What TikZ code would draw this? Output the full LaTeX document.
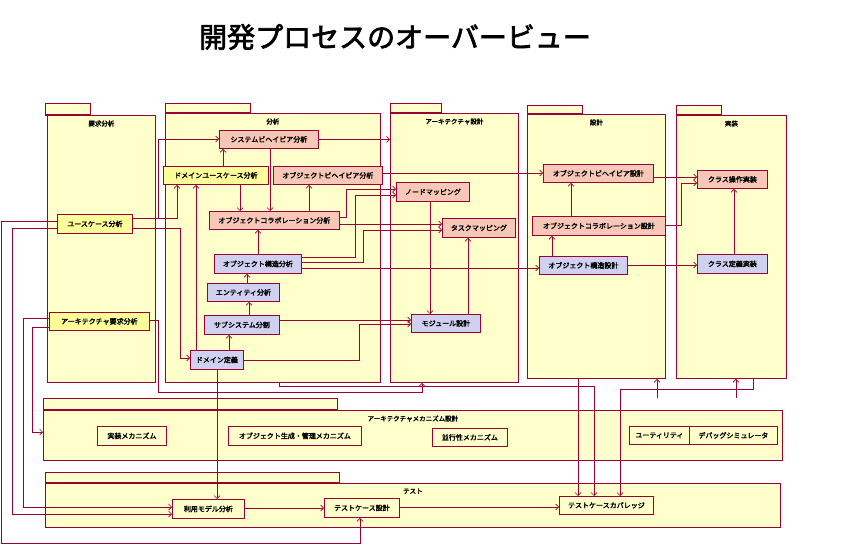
\documentclass[tikz,border=0pt]{standalone}
\usepackage{fontspec}
\newfontfamily\jp{Noto Sans CJK JP}[AutoFakeBold=2.5]
\usetikzlibrary{arrows.meta}
\definecolor{wine}{RGB}{153,0,51}
\definecolor{pkgfill}{RGB}{255,255,204}
\definecolor{ylw}{RGB}{255,255,153}
\definecolor{pnk}{RGB}{247,199,183}
\definecolor{lav}{RGB}{208,208,240}

\begin{document}
\begin{tikzpicture}[
      x=1pt,y=-1pt,
      pkg/.style={
         draw=wine,
         fill=pkgfill,
         line width=0.8pt,
         anchor=north west,
         inner sep=0pt},
      pkgtab/.style={
         draw=wine,
         fill=pkgfill,
         line width=0.8pt},
      pkgname/.style={
         font=\jp\bfseries\fontsize{6.5}{7}\selectfont,
         below=2pt},
      task/.style={
         draw=wine,
         line width=0.8pt,
         anchor=north west,
         inner sep=0pt,
         font=\jp\bfseries\fontsize{7}{8}\selectfont},
      yl/.style={task,fill=ylw},
      pk/.style={task,fill=pnk},
      lv/.style={task,fill=lav},
      wt/.style={task,fill=pkgfill},
      flow/.style={draw=wine,line width=0.7pt,-{Straight Barb[length=3pt,width=6pt]}}
      ]
      \useasboundingbox (0,0) rectangle (867,545);
      \node[font=\jp\bfseries\fontsize{28}{30}\selectfont] (title) at (395,37) {開発プロセスのオーバービュー};
      % packages
      \draw[pkgtab] (45,103) rectangle (90,115);
      \node[pkg,minimum width=108,minimum height=267] (req) at (47,115) {};
      \draw[pkgtab] (165,103) rectangle (250,113);
      \node[pkg,minimum width=215,minimum height=269] (ana) at (165,113) {};
      \draw[pkgtab] (390,103) rectangle (441,113);
      \node[pkg,minimum width=128,minimum height=269] (arc) at (390,113) {};
      \draw[pkgtab] (527,105) rectangle (582,114);
      \node[pkg,minimum width=138,minimum height=264] (des) at (527,114) {};
      \draw[pkgtab] (676,105) rectangle (721,115);
      \node[pkg,minimum width=110,minimum height=263] (imp) at (676,115) {};
      \draw[pkgtab] (43,398) rectangle (337,410);
      \node[pkg,minimum width=739,minimum height=50] (mech) at (43,410) {};
      \draw[pkgtab] (45,472) rectangle (339,483);
      \node[pkg,minimum width=735,minimum height=44] (test) at (45,483) {};
      % thick tab edges
      \foreach \xa/\xb/\yy in {45/90/115, 165/250/113, 390/441/113, 527/582/114,
                               676/721/115, 43/337/410, 45/339/483}
        \draw[wine,line width=2pt] (\xa,\yy) -- (\xb,\yy);
      \node[pkgname] at (req.north) {要求分析};
      \node[pkgname] at (ana.north) {分析};
      \node[pkgname] at (arc.north) {アーキテクチャ設計};
      \node[pkgname] at (des.north) {設計};
      \node[pkgname] at (imp.north) {実装};
      \node[pkgname] at (mech.north) {アーキテクチャメカニズム設計};
      \node[pkgname] at (test.north) {テスト};
      % requirements
      \node[yl,minimum width=75,minimum height=19] (uc) at (57,214) {ユースケース分析};
      \node[yl,minimum width=100,minimum height=18] (areq) at (49,312) {アーキテクチャ要求分析};
      % analysis
      \node[pk,minimum width=99,minimum height=18] (sysb) at (219,130) {システムビヘイビア分析};
      \node[yl,minimum width=105,minimum height=18] (dus) at (163,166) {ドメインユースケース分析};
      \node[pk,minimum width=109,minimum height=18] (obeha) at (273,166) {オブジェクトビヘイビア分析};
      \node[pk,minimum width=130,minimum height=18] (ocola) at (209,211) {オブジェクトコラボレーション分析};
      \node[lv,minimum width=87,minimum height=19] (ostra) at (214,254) {オブジェクト構造分析};
      \node[lv,minimum width=72,minimum height=18] (ent) at (207,283) {エンティティ分析};
      \node[lv,minimum width=75,minimum height=19] (sub) at (204,315) {サブシステム分割};
      \node[lv,minimum width=53,minimum height=19] (ddef) at (190,350) {ドメイン定義};
      % architecture design
      \node[pk,minimum width=73,minimum height=19] (nmap) at (396,182) {ノードマッピング};
      \node[pk,minimum width=73,minimum height=19] (tmap) at (442,218) {タスクマッピング};
      \node[lv,minimum width=69,minimum height=18] (mod) at (411,314) {モジュール設計};
      % design
      \node[pk,minimum width=110,minimum height=18] (obehd) at (543,164) {オブジェクトビヘイビア設計};
      \node[pk,minimum width=133,minimum height=19] (ocold) at (532,216) {オブジェクトコラボレーション設計};
      \node[lv,minimum width=88,minimum height=18] (ostrd) at (539,256) {オブジェクト構造設計};
      % implementation
      \node[pk,minimum width=70,minimum height=18] (cop) at (697,170) {クラス操作実装};
      \node[lv,minimum width=70,minimum height=19] (cdef) at (697,254) {クラス定義実装};
      % mechanisms
      \node[wt,minimum width=69,minimum height=19] (m1) at (97,426) {実装メカニズム};
      \node[wt,minimum width=133,minimum height=19] (m2) at (228,426) {オブジェクト生成・管理メカニズム};
      \node[wt,minimum width=75,minimum height=18] (m3) at (432,428) {並行性メカニズム};
      \node[wt,minimum width=60,minimum height=18] (m4) at (629,426) {ユーティリティ};
      \node[wt,minimum width=88,minimum height=18] (m5) at (689,426) {デバッグシミュレータ};
      % test
      \node[wt,minimum width=72,minimum height=19] (umod) at (172,499) {利用モデル分析};
      \node[wt,minimum width=75,minimum height=19] (tcd) at (324,498) {テストケース設計};
      \node[wt,minimum width=94,minimum height=18] (cov) at (559,496) {テストケースカバレッジ};
      \coordinate (mtopA) at (657,398);
      \coordinate (mtopB) at (736,398);
      % connectors
      \draw[flow] (uc.east |- 0,218) -| (158,139) -- (sysb.west |- 0,139);
      \draw[flow] (uc.east |- 0,218) -| (dus.south -| 177,0);
      \draw[flow] (uc.east |- 0,228) -| (180,358) -- (ddef.west |- 0,358);
      \draw[flow] (ddef.north -| 196,0) -- (dus.south -| 196,0);
      \draw[flow] (dus.south -| 240,0) -- (ocola.north -| 240,0);
      \draw[flow] (sysb.south -| 270,0) -- (ocola.north -| 270,0);
      \draw[flow] (dus.north -| 223,0) -- (sysb.south -| 223,0);
      \draw[flow] (ocola.north -| 309,0) -- (obeha.south -| 309,0);
      \draw[flow] (ostra.north -| 258,0) -- (ocola.south -| 258,0);
      \draw[flow] (ent.north -| 247,0) -- (ostra.south -| 247,0);
      \draw[flow] (sub.north -| 249,0) -- (ent.south -| 249,0);
      \draw[flow] (ddef.north -| 229,0) -- (sub.south -| 229,0);
      \draw[flow] (sysb.east) -- (sysb.east -| arc.west);
      \draw[flow] (obeha.east |- 0,173) -- (obehd.west |- 0,173);
      \draw[flow] (ocola.east |- 0,217) -| (346,189) -- (nmap.west |- 0,189);
      \draw[flow] (ostra.east |- 0,257) -| (355,195) -- (nmap.west |- 0,195);
      \draw[flow] (ocola.east |- 0,224) -- (tmap.west |- 0,224);
      \draw[flow] (ostra.east |- 0,262) -| (363,230) -- (tmap.west |- 0,230);
      \draw[flow] (ostra.east |- 0,268) -- (ostrd.west |- 0,268);
      \draw[flow] (sub.east |- 0,320) -- (mod.west |- 0,320);
      \draw[flow] (ddef.east |- 0,360) -| (359,324) -- (mod.west |- 0,324);
      \draw[flow] (nmap.south -| 430,0) -- (mod.north -| 430,0);
      \draw[flow] (mod.north -| 468,0) -- (tmap.south -| 468,0);
      \draw[flow] (ostrd.north -| 552,0) -- (ocold.south -| 552,0);
      \draw[flow] (ocold.north -| 571,0) -- (obehd.south -| 571,0);
      \draw[flow] (obehd.east |- 0,177) -- (cop.west |- 0,177);
      \draw[flow] (ocold.east |- 0,225) -| (681,183) -- (cop.west |- 0,183);
      \draw[flow] (ostrd.east |- 0,265) -- (cdef.west |- 0,265);
      \draw[flow] (cdef.north -| 734,0) -- (cop.south -| 734,0);
      \draw[flow] (uc.west |- 0,221) -| (1,543) -| (tcd.south -| 360,0);
      \draw[flow] (uc.west |- 0,228) -| (12,514) -- (umod.west |- 0,514);
      \draw[flow] (areq.west |- 0,318) -| (23,507) -- (umod.west |- 0,507);
      \draw[flow] (areq.west |- 0,327) -| (32,432) -- (mech.west |- 0,432);
      \draw[flow] (areq.east |- 0,320) -| (158,392) -| (arc.south -| 422,0);
      \draw[flow] (ana.south -| 279,0) |- (594,386) -- (cov.north -| 594,0);
      \draw[flow] (des.south -| 578,0) -- (cov.north -| 578,0);
      \draw[flow] (imp.south -| 753,0) |- (620,389) -- (cov.north -| 620,0);
      \draw[flow] (mtopA) -- (des.south -| mtopA);
      \draw[flow] (mtopB) -- (imp.south -| mtopB);
      \draw[flow] (ddef.south -| 217,0) -- (umod.north -| 217,0);
      \draw[flow] (umod.east |- 0,508) -- (tcd.west |- 0,508);
      \draw[flow] (tcd.east |- 0,507) -- (cov.west |- 0,507);
\end{tikzpicture}
\end{document}
